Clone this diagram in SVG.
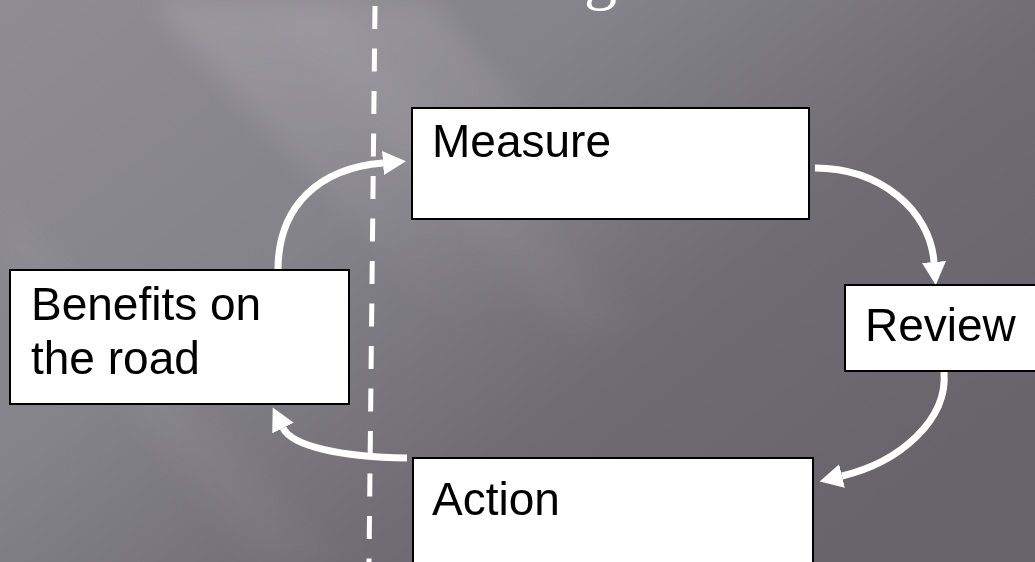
<svg xmlns="http://www.w3.org/2000/svg" width="1035" height="562" viewBox="0 0 1035 562">
  <defs>
    <linearGradient id="bg" x1="0" y1="0" x2="1" y2="0.7">
      <stop offset="0" stop-color="#8f8d93"/>
      <stop offset="0.4" stop-color="#85838a"/>
      <stop offset="0.7" stop-color="#6f6d73"/>
      <stop offset="1" stop-color="#67656b"/>
    </linearGradient>
    <linearGradient id="streak" x1="0" y1="0" x2="0.6" y2="1">
      <stop offset="0" stop-color="#ffffff" stop-opacity="0.14"/>
      <stop offset="1" stop-color="#ffffff" stop-opacity="0"/>
    </linearGradient>
    <filter id="soft" x="-20%" y="-20%" width="140%" height="140%">
      <feGaussianBlur stdDeviation="14"/>
    </filter>
    <marker id="ah" markerUnits="userSpaceOnUse" markerWidth="24" markerHeight="26" refX="0" refY="12" orient="auto">
      <path d="M0,0 L23,12 L0,24 Z" fill="#ffffff"/>
    </marker>
    <style>
      .box { fill: #ffffff; stroke: #000000; stroke-width: 2; }
      .lbl { font-family: "Liberation Sans", Arial, sans-serif; font-size: 46px; fill: #000000; }
      .con { fill: none; stroke: #ffffff; stroke-width: 7; marker-end: url(#ah); }
      .dash { stroke: #ffffff; stroke-width: 5; stroke-dasharray: 23 19.5; }
    </style>
  </defs>

  <rect width="1035" height="562" fill="url(#bg)"/>
  <g filter="url(#soft)">
    <polygon points="150,0 430,0 720,330 450,330" fill="url(#streak)"/>
    <polygon points="260,0 330,0 640,330 560,330" fill="#ffffff" opacity="0.04"/>
    <polygon points="0,190 0,260 260,562 340,562" fill="#ffffff" opacity="0.04"/>
  </g>

  <text x="584" y="-3" font-family="'Liberation Serif', 'Times New Roman', serif" font-size="66" fill="#ffffff">g</text>

  <line class="dash" x1="375" y1="6" x2="369" y2="562"/>

  <g id="connectors">
    <path class="con" d="M278,270 C278,205 320,168 383,163"/>
    <path class="con" d="M815,168 C880,168 930,210 934,262"/>
    <path class="con" d="M944,372 C948,420 900,462 842,476"/>
    <path class="con" d="M407,458 C340,457 292,446 283,428"/>
  </g>

  <g id="measure">
    <rect class="box" x="412" y="108" width="397" height="111"/>
    <text class="lbl" x="432" y="157">Measure</text>
  </g>
  <g id="review">
    <rect class="box" x="845" y="285" width="200" height="86"/>
    <text class="lbl" x="865" y="341">Review</text>
  </g>
  <g id="action">
    <rect class="box" x="413" y="458" width="400" height="120"/>
    <text class="lbl" x="432" y="515">Action</text>
  </g>
  <g id="benefits">
    <rect class="box" x="10" y="270" width="339" height="134"/>
    <text class="lbl" x="31" y="320">Benefits on</text>
    <text class="lbl" x="31" y="374">the road</text>
  </g>
</svg>
